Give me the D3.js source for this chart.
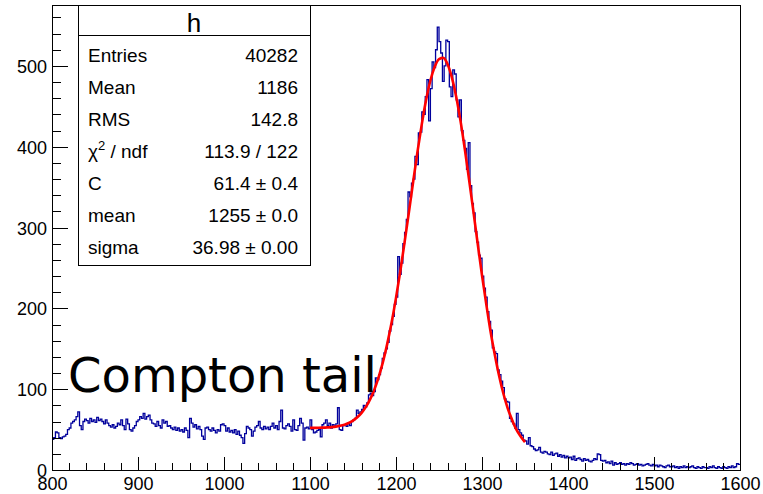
<!DOCTYPE html>
<html>
<head>
<meta charset="utf-8">
<script src="https://cdn.jsdelivr.net/npm/d3@7"></script>
<style>
  html, body { margin: 0; padding: 0; background: #fff; }
  svg { display: block; }
</style>
</head>
<body>
<script>
// Histogram "h": 400 bins of width 2 between 800 and 1600
const xRange = [800, 1600];
const binWidth = 2;
const counts = [
  38, 40, 47, 46, 40, 39, 41, 42, 44, 50,
  52, 58, 60, 62, 66, 72, 55, 50, 60, 63,
  61, 58, 64, 60, 62, 59, 65, 61, 63, 60,
  57, 62, 58, 55, 53, 56, 52, 54, 58, 56,
  62, 55, 50, 63, 57, 50, 48, 52, 55, 60,
  62, 66, 64, 70, 63, 66, 68, 62, 58, 57,
  54, 60, 55, 52, 62, 58, 60, 54, 55, 52,
  50, 53, 49, 52, 48, 50, 47, 52, 49, 40,
  64, 58, 53, 56, 51, 54, 50, 42, 38, 52,
  53, 50, 48, 52, 49, 46, 50, 48, 56, 57,
  55, 48, 52, 47, 49, 46, 50, 44, 48, 43,
  40, 33, 45, 54, 52, 50, 42, 48, 53, 55,
  60, 52, 50, 54, 51, 53, 50, 54, 58, 52,
  55, 50, 60, 74, 52, 51, 55, 57, 54, 48,
  62, 50, 49, 55, 64, 58, 37, 52, 53, 51,
  62, 50, 46, 47, 49, 50, 41, 56, 58, 62,
  55, 58, 52, 56, 54, 57, 77, 50, 49, 55,
  56, 54, 58, 55, 60, 62, 64, 74, 70, 72,
  75, 80, 78, 83, 93, 95, 92, 97, 114, 112,
  118, 126, 138, 145, 150, 158, 172, 180, 190, 205,
  214, 264, 242, 256, 280, 294, 310, 344, 338, 355,
  360, 388, 378, 417, 418, 443, 440, 462, 483, 432,
  472, 505, 498, 520, 548, 530, 516, 481, 500, 532,
  530, 474, 462, 495, 490, 458, 437, 458, 420, 408,
  398, 372, 405, 352, 330, 318, 295, 282, 266, 262,
  240, 225, 214, 196, 184, 173, 151, 146, 144, 124,
  118, 110, 102, 88, 85, 84, 64, 60, 57, 52,
  70, 50, 46, 43, 37, 36, 32, 40, 30, 29,
  26, 24, 25, 28, 22, 21, 23, 22, 20, 19,
  22, 18, 20, 21, 17, 19, 16, 18, 15, 17,
  15, 16, 13, 17, 12, 14, 15, 13, 11, 14,
  12, 13, 11, 10, 12, 14, 13, 20, 19, 12,
  11, 12, 9, 10, 8, 11, 6, 9, 7, 8,
  9, 7, 8, 6, 8, 7, 9, 8, 6, 7,
  8, 6, 7, 5, 6, 7, 8, 6, 5, 7,
  5, 6, 4, 6, 5, 4, 3, 5, 6, 4,
  4, 5, 3, 4, 2, 4, 3, 5, 3, 4,
  3, 4, 5, 3, 2, 4, 3, 2, 4, 3,
  3, 2, 4, 3, 5, 3, 2, 4, 3, 2,
  4, 3, 2, 4, 3, 5, 3, 4, 8, 7
];

// Fitted peak function, sampled over the fit range 1100-1350
const fitX = [
  1100, 1105, 1110, 1115, 1120, 1125, 1130, 1135, 1140, 1145,
  1150, 1155, 1160, 1165, 1170, 1175, 1180, 1185, 1190, 1195,
  1200, 1205, 1210, 1215, 1220, 1225, 1230, 1235, 1240, 1245,
  1250, 1255, 1260, 1265, 1270, 1275, 1280, 1285, 1290, 1295,
  1300, 1305, 1310, 1315, 1320, 1325, 1330, 1335, 1340, 1345,
  1350
];
const fitY = [
  52.1, 52.1, 52.2, 52.4, 52.7, 53.1, 53.7, 54.7, 56.1, 58.1,
  61.1, 65.2, 70.7, 78.1, 87.7, 100.0, 115.5, 134.4, 157, 183,
  213, 246, 282, 319, 357, 394, 428, 458, 482, 499,
  508.5, 510, 502, 485.5, 462, 432, 397, 359, 320, 280,
  241, 205, 171, 142, 116, 94, 76, 62, 50, 41.5,
  34.5
];

const xTickValues = [800, 900, 1000, 1100, 1200, 1300, 1400, 1500, 1600];
const yTickValues = [0, 100, 200, 300, 400, 500];

const statsTitle = "h";
const statNames = ["Entries", "Mean", "RMS", "chi2", "C", "mean", "sigma"];
const statValues = ["40282", "1186", "142.8", "113.9 / 122", "61.4 \u00b1 0.4", "1255 \u00b1 0.0", "36.98 \u00b1 0.00"];
const annotation = "Compton tail";

// ---- layout ----
const W = 763, H = 494;
const frame = { left: 52, right: 740, top: 5, bottom: 470 };
const axisFont = "'Liberation Sans', Arial, Helvetica, sans-serif";

const svg = d3.select("body").append("svg")
  .attr("width", W).attr("height", H)
  .attr("viewBox", `0 0 ${W} ${H}`);

const x = d3.scaleLinear().domain(xRange).range([frame.left, frame.right]);
const y = d3.scaleLinear().domain([0, d3.max(counts) * 1.05]).range([frame.bottom, frame.top]);

// ---- histogram outline ----
const steps = counts.map((c, i) => [xRange[0] + i * binWidth, c]);
steps.push([xRange[1], counts[counts.length - 1]]);

svg.append("path")
  .datum(steps)
  .attr("fill", "none")
  .attr("stroke", "#00009c")
  .attr("stroke-width", 1.3)
  .attr("d", d3.line().x(d => x(d[0])).y(d => y(d[1])).curve(d3.curveStepAfter));

// ---- fit curve ----
svg.append("path")
  .datum(fitX.map((v, i) => [v, fitY[i]]))
  .attr("fill", "none")
  .attr("stroke", "#ff0000")
  .attr("stroke-width", 2.6)
  .attr("stroke-linejoin", "round")
  .attr("d", d3.line().x(d => x(d[0])).y(d => y(d[1])).curve(d3.curveMonotoneX));

// ---- frame ----
svg.append("rect")
  .attr("x", frame.left).attr("y", frame.top)
  .attr("width", frame.right - frame.left).attr("height", frame.bottom - frame.top)
  .attr("fill", "none").attr("stroke", "#000").attr("stroke-width", 1)
  .attr("shape-rendering", "crispEdges");

// ---- axes (ticks point into the frame) ----
function styleAxis(g) {
  g.select(".domain").remove();
  g.selectAll("line").attr("stroke", "#000").attr("shape-rendering", "crispEdges");
  g.selectAll("text").attr("font-family", axisFont).attr("font-size", 18).attr("fill", "#000");
}

const xMinor = d3.range(xRange[0], xRange[1] + 1, 20).filter(v => v % 100 !== 0);
svg.append("g").attr("transform", `translate(0,${frame.bottom})`)
  .call(d3.axisBottom(x).tickValues(xMinor).tickSize(-7).tickFormat(""))
  .call(styleAxis);
svg.append("g").attr("transform", `translate(0,${frame.bottom})`)
  .call(d3.axisBottom(x).tickValues(xTickValues).tickSize(-13).tickPadding(7).tickFormat(d3.format("d")))
  .call(styleAxis);

const yMinor = d3.range(0, y.domain()[1], 20).filter(v => v % 100 !== 0);
svg.append("g").attr("transform", `translate(${frame.left},0)`)
  .call(d3.axisLeft(y).tickValues(yMinor).tickSize(-9).tickFormat(""))
  .call(styleAxis);
svg.append("g").attr("transform", `translate(${frame.left},0)`)
  .call(d3.axisLeft(y).tickValues(yTickValues).tickSize(-16).tickPadding(5).tickFormat(d3.format("d")))
  .call(styleAxis)
  .call(g => g.selectAll("text").attr("dy", "0.36em"));

// ---- statistics box ----
const box = { x0: 78, x1: 310, y0: 5, y1: 265, titleLine: 35 };
const stats = svg.append("g").attr("font-family", axisFont).attr("fill", "#000");
stats.append("rect")
  .attr("x", box.x0).attr("y", box.y0)
  .attr("width", box.x1 - box.x0).attr("height", box.y1 - box.y0)
  .attr("fill", "#fff").attr("stroke", "#000").attr("stroke-width", 1)
  .attr("shape-rendering", "crispEdges");
stats.append("line")
  .attr("x1", box.x0).attr("x2", box.x1)
  .attr("y1", box.titleLine).attr("y2", box.titleLine)
  .attr("stroke", "#000").attr("shape-rendering", "crispEdges");
stats.append("text")
  .attr("x", (box.x0 + box.x1) / 2).attr("y", 32)
  .attr("text-anchor", "middle").attr("font-size", 26)
  .text(statsTitle);

statNames.forEach((name, i) => {
  const base = 62 + i * 32;
  const t = stats.append("text").attr("x", 88).attr("y", base).attr("font-size", 19);
  if (name === "chi2") {
    t.append("tspan").text("\u03c7");
    t.append("tspan").attr("dy", -8).attr("font-size", 13).text("2");
    t.append("tspan").attr("dy", 8).text(" / ndf");
  } else {
    t.text(name);
  }
  stats.append("text")
    .attr("x", 298).attr("y", base)
    .attr("text-anchor", "end").attr("font-size", 19)
    .text(statValues[i]);
});

// ---- annotation ----
svg.append("text")
  .attr("x", 68).attr("y", 392)
  .attr("font-family", "'DejaVu Sans', sans-serif")
  .attr("font-size", 48)
  .attr("fill", "#000")
  .text(annotation);
</script>
</body>
</html>
